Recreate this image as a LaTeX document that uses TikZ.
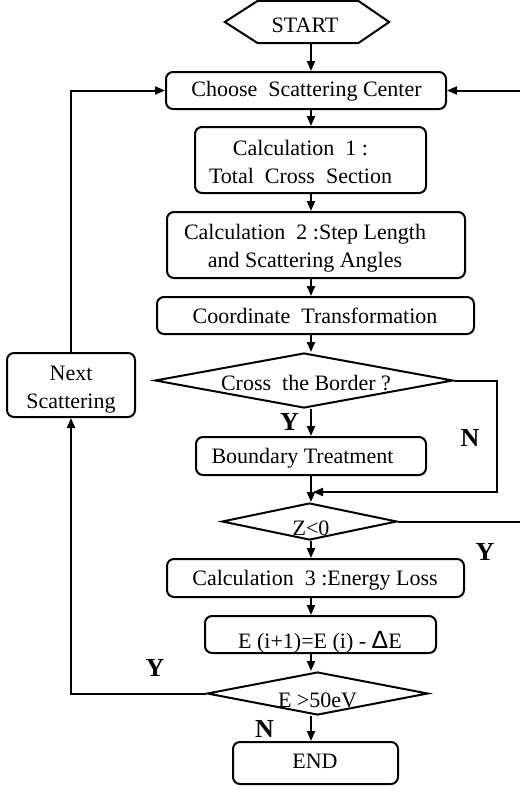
\documentclass[tikz,border=0pt]{standalone}
\usepackage{fontspec}
\setmainfont{Liberation Serif}
\newfontfamily\dsans{Liberation Sans}
\usetikzlibrary{arrows.meta,shapes.geometric,calc}
\newcommand\myfs{\fontsize{22}{27.5}\selectfont}
\newcommand\mylab{\fontsize{26}{30}\selectfont\bfseries}
\begin{document}
\begin{tikzpicture}[x=1pt,y=-1pt,
  ln/.style={line width=2pt},
  arr/.style={line width=2pt,-{Triangle[length=10pt,width=8pt]}},
  box/.style={draw,line width=2pt,rounded corners=7pt,inner sep=0pt},
  dia/.style={draw,diamond,line width=2pt,inner sep=0pt},
  txt/.style={anchor=base,inner sep=0pt,font=\myfs,align=center},
  lab/.style={anchor=base,inner sep=0pt,font=\mylab}]
\path[fill=white,use as bounding box] (0,0) rectangle (520,790);
\coordinate (ax) at (311,0);
% shapes
\node[minimum width=100pt,minimum height=42pt,inner sep=0pt] (start) at (308,22) {};
\draw[ln] ($(start.west)+(-33,0)$) -- (start.north west) -- (start.north east)
  -- ($(start.east)+(31,0)$) -- (start.south east) -- (start.south west) -- cycle;
\node[box,minimum width=280pt,minimum height=37pt] (choose) at (306,90.5) {};
\node[box,minimum width=231pt,minimum height=66pt] (calc1) at (310.5,160) {};
\node[box,minimum width=298pt,minimum height=66pt] (calc2) at (316,245) {};
\node[box,minimum width=317pt,minimum height=37pt] (coord) at (315.5,315.5) {};
\node[dia,minimum width=298pt,minimum height=55pt] (cross) at (304,380.5) {};
\node[box,minimum width=230pt,minimum height=38pt] (bound) at (311,456) {};
\node[dia,minimum width=175pt,minimum height=37pt] (z) at (309.5,521.5) {};
\node[box,minimum width=297pt,minimum height=38pt] (calc3) at (315.5,578) {};
\node[box,minimum width=231pt,minimum height=37pt] (ebox) at (320.5,634.5) {};
\node[dia,minimum width=221pt,minimum height=43pt] (e50) at (317.5,693.5) {};
\node[box,minimum width=165pt,minimum height=42pt] (endn) at (315.5,763) {};
\node[box,minimum width=128pt,minimum height=64pt] (next) at (71,385) {};
% texts
\node[txt] (startt) at (305,32) {START};
\node[txt] (chooset) at (306.5,96.7) {Choose\ \ Scattering Center};
\node[txt] (calc1t) at (300.5,183) {Calculation\ \ 1 :\\Total\ \ Cross\ \ Section};
\node[txt] (calc2t) at (305,267) {Calculation\ \ 2 :Step Length\\and Scattering Angles};
\node[txt] (coordt) at (315,323) {Coordinate\ \ Transformation};
\node[txt] (crosst) at (306,390) {Cross\ \ the Border ?};
\node[txt] (boundt) at (302.5,463) {Boundary Treatment};
\node[txt] (zt) at (311,535) {Z{<}0};
\node[txt] (calc3t) at (315,585) {Calculation\ \ 3 :Energy Loss};
\node[txt] (eboxt) at (320,648) {E (i+1)=E (i) - {\dsans\fontsize{25}{27}\selectfont Δ}E};
\node[txt] (e50t) at (317.5,707) {E {>}50eV};
\node[txt] (endt) at (315,768) {END};
\node[txt] (nextt) at (71,408) {Next\\Scattering};
% labels
\node[lab] (ycross) at (289.5,430) {Y};
\node[lab] (ncross) at (470,446) {N};
\node[lab] (yz) at (485,560) {Y};
\node[lab] (ye50) at (155,676) {Y};
\node[lab] (ne50) at (264.5,737) {N};
% free ends
\coordinate (nturn) at (497,492);
\coordinate (merge) at (313,492);
\coordinate (zout) at (520,521.5);
\coordinate (cin) at (520,90.5);
% connectors
\draw[arr] (start.south -| ax) -- (choose.north -| ax);
\draw[arr] (choose.south -| ax) -- (calc1.north -| ax);
\draw[arr] (calc1.south -| ax) -- (calc2.north -| ax);
\draw[arr] (calc2.south -| ax) -- (coord.north -| ax);
\draw[arr] (coord.south -| ax) -- (cross.north -| ax);
\draw[arr] (cross.south -| ax) -- (bound.north -| ax);
\draw[arr] (bound.south -| ax) -- (z.north -| ax);
\draw[arr] (cross.east) -| (nturn) -- (merge);
\draw[ln] (z.east) -- (zout);
\draw[arr] (cin) -- (choose.east);
\draw[arr] (z.south -| ax) -- (calc3.north -| ax);
\draw[arr] (calc3.south -| ax) -- (ebox.north -| ax);
\draw[arr] (ebox.south -| ax) -- (e50.north -| ax);
\draw[arr] (e50.south -| ax) -- (endn.north -| ax);
\draw[arr] (e50.west) -| (next.south);
\draw[arr] (next.north) |- (choose.west);
\end{tikzpicture}
\end{document}
